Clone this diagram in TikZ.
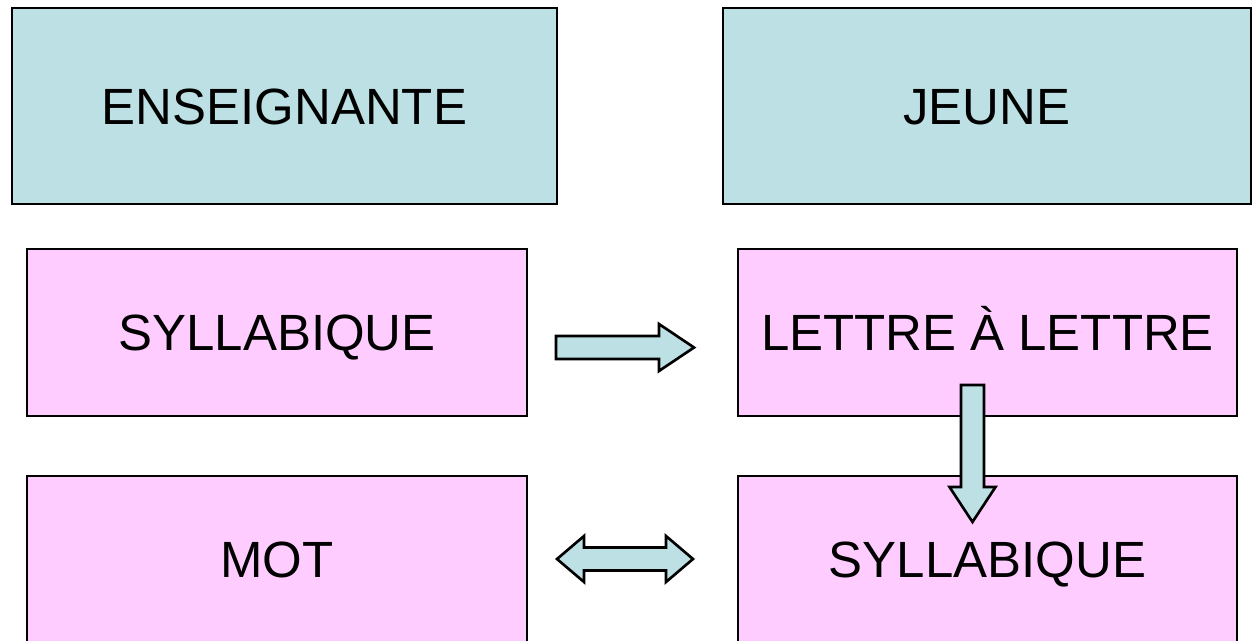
\documentclass[tikz,border=0pt]{standalone}
\usepackage{fontspec}
\setmainfont{Liberation Sans}
\usetikzlibrary{calc}
\definecolor{boxcyan}{RGB}{188,224,227}
\definecolor{boxpink}{RGB}{255,204,255}
\tikzset{
    tealbox/.style={draw=black, fill=boxcyan, line width=1.5pt, font=\fontsize{29}{35}\selectfont, text height=20.8pt, text depth=0pt},
    pinkbox/.style={draw=black, fill=boxpink, line width=1.5pt, font=\fontsize{29}{35}\selectfont, text height=20.8pt, text depth=0pt},
    blockarrow/.style={draw=black, fill=boxcyan, line width=1.5pt, line join=miter}
}

\begin{document}
\begin{tikzpicture}[x=0.02cm, y=-0.02cm]
    \clip (0,0) rectangle (1252,640);
    \useasboundingbox (0,0) rectangle (1252,640);
    % top row
    \node[tealbox, minimum width=10.9cm, minimum height=3.92cm] (ens) at (284.5,106) {ENSEIGNANTE};
    \node[tealbox, minimum width=10.56cm, minimum height=3.92cm] (jeune) at (987,106) {JEUNE};
    % middle row
    \node[pinkbox, minimum width=10cm, minimum height=3.34cm] (syl1) at (277,332.5) {SYLLABIQUE};
    \node[pinkbox, minimum width=9.98cm, minimum height=3.34cm] (lettre) at (987.5,332.5) {LETTRE À LETTRE};
    % bottom row
    \node[pinkbox, minimum width=10cm, minimum height=3.34cm] (mot) at (277,559.5) {MOT};
    \node[pinkbox, minimum width=9.98cm, minimum height=3.34cm] (syl2) at (987.5,559.5) {SYLLABIQUE};
    % arrows
    \coordinate (r1) at (556,347.5);
    \coordinate (r2) at (694,347.5);
    \draw[blockarrow] ($(r1)+(0,-11.5)$) -- ($(r2)+(-35,-11.5)$) -- ($(r2)+(-35,-23.5)$) -- (r2)
        -- ($(r2)+(-35,23.5)$) -- ($(r2)+(-35,11.5)$) -- ($(r1)+(0,11.5)$) -- cycle;
    \coordinate (d1) at (972.5,385);
    \coordinate (d2) at (972.5,522);
    \draw[blockarrow] ($(d1)+(-11.5,0)$) -- ($(d2)+(-11.5,-35)$) -- ($(d2)+(-23,-35)$) -- (d2)
        -- ($(d2)+(23,-35)$) -- ($(d2)+(11.5,-35)$) -- ($(d1)+(11.5,0)$) -- cycle;
    \coordinate (b1) at (557,559);
    \coordinate (b2) at (693,559);
    \draw[blockarrow] (b1) -- ($(b1)+(27,-23)$) -- ($(b1)+(27,-11.5)$) -- ($(b2)+(-27,-11.5)$)
        -- ($(b2)+(-27,-23)$) -- (b2) -- ($(b2)+(-27,23)$) -- ($(b2)+(-27,11.5)$)
        -- ($(b1)+(27,11.5)$) -- ($(b1)+(27,23)$) -- cycle;
\end{tikzpicture}
\end{document}
